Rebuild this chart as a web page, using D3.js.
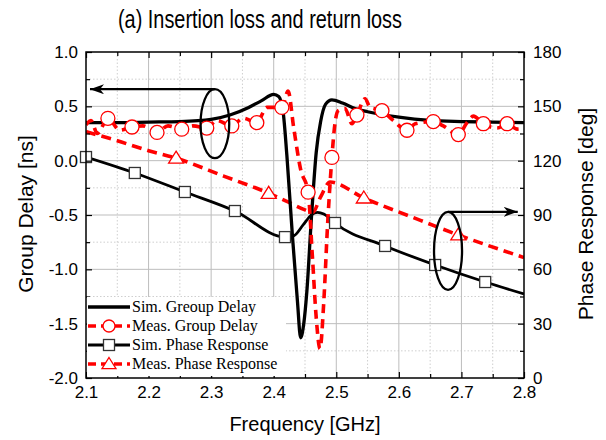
<!DOCTYPE html>
<html><head><meta charset="utf-8">
<script src="https://cdn.jsdelivr.net/npm/d3@7"></script>
<style>body{margin:0;background:#fff;} svg{display:block;}</style>
</head><body>
<svg id="chart" width="606" height="440"></svg>
<script>
// ---------- data ----------
const titleText = "(a) Insertion loss and return loss";
const xLabel = "Frequency [GHz]";
const yLeftLabel = "Group Delay [ns]";
const yRightLabel = "Phase Response [deg]";

const xTicks = [2.1, 2.2, 2.3, 2.4, 2.5, 2.6, 2.7, 2.8];
const yLeftTicks = [-2.0, -1.5, -1.0, -0.5, 0.0, 0.5, 1.0];
const yRightTicks = [0, 30, 60, 90, 120, 150, 180];

// Simulated group delay (ns)
const simGDFreq = [2.10, 2.15, 2.20, 2.25, 2.30, 2.33, 2.36, 2.38, 2.40, 2.408, 2.415, 2.421, 2.43, 2.438, 2.443, 2.448, 2.453, 2.46, 2.468, 2.475, 2.483, 2.493, 2.51, 2.53, 2.55, 2.60, 2.65, 2.70, 2.75, 2.80];
const simGD     = [0.35, 0.35, 0.355, 0.36, 0.38, 0.42, 0.49, 0.55, 0.61, 0.59, 0.45, 0.05, -0.70, -1.30, -1.63, -1.50, -1.20, -0.55, 0.08, 0.36, 0.52, 0.56, 0.53, 0.48, 0.45, 0.40, 0.37, 0.36, 0.355, 0.35];

// Measured group delay (ns)
const measGDFreq = [2.100, 2.108, 2.118, 2.135, 2.154, 2.1735, 2.191, 2.2135, 2.231, 2.253, 2.271, 2.293, 2.309, 2.333, 2.351, 2.373, 2.389, 2.413, 2.423, 2.432, 2.443, 2.455, 2.462, 2.468, 2.474, 2.480, 2.486, 2.493, 2.497, 2.503, 2.514, 2.525, 2.533, 2.546, 2.554, 2.573, 2.591, 2.613, 2.626, 2.655, 2.671, 2.695, 2.709, 2.719, 2.735, 2.757, 2.773, 2.789, 2.800];
const measGD     = [0.33, 0.37, 0.25, 0.39, 0.28, 0.31, 0.32, 0.26, 0.32, 0.29, 0.32, 0.30, 0.37, 0.32, 0.39, 0.35, 0.49, 0.49, 0.64, 0.30, -0.08, -0.29, -0.90, -1.45, -1.73, -1.30, -0.60, 0.03, 0.30, 0.46, 0.48, 0.34, 0.42, 0.57, 0.49, 0.46, 0.37, 0.28, 0.34, 0.36, 0.32, 0.24, 0.35, 0.41, 0.34, 0.30, 0.34, 0.29, 0.30];
const measGDMarkFreq = [2.135, 2.1735, 2.2135, 2.253, 2.293, 2.333, 2.373, 2.413, 2.455, 2.493, 2.533, 2.573, 2.613, 2.655, 2.695, 2.735, 2.773];
const measGDMark     = [0.39, 0.31, 0.26, 0.29, 0.30, 0.32, 0.35, 0.49, -0.29, 0.03, 0.42, 0.46, 0.28, 0.36, 0.24, 0.34, 0.34];

// Simulated phase response (deg)
const simPhFreq = [2.100, 2.178, 2.258, 2.338, 2.418, 2.432, 2.447, 2.460, 2.470, 2.480, 2.490, 2.498, 2.578, 2.658, 2.738, 2.800];
const simPh     = [122.0, 113.2, 102.7, 92.2, 77.8, 78.5, 84.5, 90.0, 91.5, 90.5, 88.0, 85.6, 72.9, 62.4, 53.0, 46.4];
const simPhMarkFreq = [2.100, 2.178, 2.258, 2.338, 2.418, 2.498, 2.578, 2.658, 2.738];
const simPhMark     = [122.0, 113.2, 102.7, 92.2, 77.8, 85.6, 72.9, 62.4, 53.0];

// Measured phase response (deg)
const measPhFreq = [2.100, 2.150, 2.200, 2.244, 2.320, 2.392, 2.420, 2.450, 2.462, 2.475, 2.490, 2.544, 2.620, 2.695, 2.800];
const measPh     = [136.0, 131.0, 125.5, 121.4, 111.5, 102.0, 97.6, 92.8, 91.3, 100.0, 108.2, 99.4, 89.0, 79.0, 66.5];
const measPhMarkFreq = [2.244, 2.392, 2.544, 2.695];
const measPhMark     = [121.4, 102.0, 99.4, 79.0];

// Annotation ellipses (centre in data units, radii in data units) and arrow ends
const ellFreq  = [2.306, 2.6786];
const ellGD    = [0.34, -0.83];
const ellRFreq = [0.0229, 0.0224];
const ellRGD   = [0.3175, 0.359];
const arrowEndFreq = [2.1064, 2.790];

const legendLabels = ["Sim. Greoup Delay", "Meas. Group Delay", "Sim. Phase Response", "Meas. Phase Response"];

// ---------- drawing ----------
const svg = d3.select("#chart");
const L = 86, R = 524, T = 52, B = 378;
const x = d3.scaleLinear().domain([2.1, 2.8]).range([L, R]);
const yL = d3.scaleLinear().domain([-2, 1]).range([B, T]);
const yR = d3.scaleLinear().domain([0, 180]).range([B, T]);
const sans = "Liberation Sans, Arial, Helvetica, sans-serif";
const serif = "Liberation Serif, Times New Roman, serif";

// grid
const g = svg.append("g");
const xMinor = d3.range(2.15, 2.8, 0.1);
const yMinor = d3.range(-1.75, 1, 0.5);
g.selectAll(".vmin").data(xMinor).join("line")
  .attr("x1", d => x(d)).attr("x2", d => x(d)).attr("y1", T).attr("y2", B)
  .attr("stroke", "#cfcfcf").attr("stroke-width", 1).attr("stroke-dasharray", "1.5,2");
g.selectAll(".hmin").data(yMinor).join("line")
  .attr("y1", d => yL(d)).attr("y2", d => yL(d)).attr("x1", L).attr("x2", R)
  .attr("stroke", "#cfcfcf").attr("stroke-width", 1).attr("stroke-dasharray", "1.5,2");
g.selectAll(".vmaj").data(xTicks.slice(1, -1)).join("line")
  .attr("x1", d => x(d)).attr("x2", d => x(d)).attr("y1", T).attr("y2", B)
  .attr("stroke", "#bdbdbd").attr("stroke-width", 1);
g.selectAll(".hmaj").data(yLeftTicks.slice(1, -1)).join("line")
  .attr("y1", d => yL(d)).attr("y2", d => yL(d)).attr("x1", L).attr("x2", R)
  .attr("stroke", "#bdbdbd").attr("stroke-width", 1);

const clip = svg.append("clipPath").attr("id", "clip").append("rect")
  .attr("x", L).attr("y", T).attr("width", R - L).attr("height", B - T);
const plot = svg.append("g").attr("clip-path", "url(#clip)");

const zip = (a, b) => a.map((v, i) => [v, b[i]]);
const lineGD = d3.line().x(d => x(d[0])).y(d => yL(d[1])).curve(d3.curveMonotoneX);
const linePh = d3.line().x(d => x(d[0])).y(d => yR(d[1])).curve(d3.curveMonotoneX);

plot.append("path").datum(zip(simPhFreq, simPh)).attr("d", linePh)
  .attr("fill", "none").attr("stroke", "#000").attr("stroke-width", 2.8);
plot.append("path").datum(zip(measPhFreq, measPh)).attr("d", linePh)
  .attr("fill", "none").attr("stroke", "#ff0000").attr("stroke-width", 3.6).attr("stroke-dasharray", "10,6");
plot.append("path").datum(zip(simGDFreq, simGD)).attr("d", lineGD)
  .attr("fill", "none").attr("stroke", "#000").attr("stroke-width", 3.3);
plot.append("path").datum(zip(measGDFreq, measGD)).attr("d", lineGD)
  .attr("fill", "none").attr("stroke", "#ff0000").attr("stroke-width", 3.6).attr("stroke-dasharray", "9,6");

// markers
const circ = (sel, cx, cy, r = 7) => sel.append("circle").attr("cx", cx).attr("cy", cy).attr("r", r)
  .attr("fill", "#fff").attr("stroke", "#ff0000").attr("stroke-width", 1.3);
const sq = (sel, cx, cy, r = 5.5) => sel.append("rect").attr("x", cx - r).attr("y", cy - r).attr("width", 2 * r).attr("height", 2 * r)
  .attr("fill", "#fff").attr("stroke", "#333").attr("stroke-width", 1.3);
const tri = (sel, cx, cy, r = 7.5) => sel.append("path")
  .attr("d", `M${cx},${cy - r * 0.93}L${cx + r},${cy + r * 0.67}L${cx - r},${cy + r * 0.67}Z`)
  .attr("fill", "#fff").attr("stroke", "#ff0000").attr("stroke-width", 1.3);

const mk = svg.append("g");
simPhMarkFreq.forEach((f, i) => sq(mk, x(f), yR(simPhMark[i])));
measPhMarkFreq.forEach((f, i) => tri(mk, x(f), yR(measPhMark[i])));
measGDMarkFreq.forEach((f, i) => circ(mk, x(f), yL(measGDMark[i])));

// annotations
const defs = svg.append("defs");
defs.append("marker").attr("id", "ah").attr("viewBox", "0 0 14 10").attr("refX", 14).attr("refY", 5)
  .attr("markerWidth", 14).attr("markerHeight", 10).attr("markerUnits", "userSpaceOnUse").attr("orient", "auto")
  .append("path").attr("d", "M0,0L14,5L0,10L4,5Z").attr("fill", "#000");
const an = svg.append("g");
ellFreq.forEach((f, i) => {
  const cx = x(f), cy = yL(ellGD[i]);
  const rx = x(f + ellRFreq[i]) - cx, ry = cy - yL(ellGD[i] + ellRGD[i]);
  an.append("ellipse").attr("cx", cx).attr("cy", cy).attr("rx", rx).attr("ry", ry)
    .attr("fill", "none").attr("stroke", "#000").attr("stroke-width", 2.3);
  an.append("line").attr("x1", cx).attr("y1", cy - ry).attr("x2", x(arrowEndFreq[i])).attr("y2", cy - ry)
    .attr("stroke", "#000").attr("stroke-width", 2.3).attr("marker-end", "url(#ah)");
});

// frame
svg.append("rect").attr("x", L).attr("y", T).attr("width", R - L).attr("height", B - T)
  .attr("fill", "none").attr("stroke", "#000").attr("stroke-width", 1.5);

// axes
const fmt = d => d.toFixed(1);
function styleAxis(sel, size) {
  sel.select(".domain").remove();
  sel.selectAll(".tick line").attr("stroke", "#000").attr("stroke-width", 1.2);
  sel.selectAll(".tick text").attr("font-family", sans).attr("font-size", size).attr("fill", "#000");
}
const minorX = d3.range(2.15, 2.8, 0.1);
const minorY = d3.range(-1.75, 1, 0.5);
const minorR = d3.range(15, 180, 30);

svg.append("g").attr("transform", `translate(0,${B})`)
  .call(d3.axisBottom(x).tickValues(xTicks).tickFormat(fmt).tickSizeInner(-6).tickSizeOuter(0).tickPadding(8))
  .call(s => styleAxis(s, 17));
svg.append("g").attr("transform", `translate(0,${B})`)
  .call(d3.axisBottom(x).tickValues(minorX).tickFormat("").tickSizeInner(-4).tickSizeOuter(0))
  .call(s => styleAxis(s, 17));
svg.append("g").attr("transform", `translate(0,${T})`)
  .call(d3.axisTop(x).tickValues(xTicks).tickFormat("").tickSizeInner(-6).tickSizeOuter(0))
  .call(s => styleAxis(s, 17));
svg.append("g").attr("transform", `translate(0,${T})`)
  .call(d3.axisTop(x).tickValues(minorX).tickFormat("").tickSizeInner(-4).tickSizeOuter(0))
  .call(s => styleAxis(s, 17));
svg.append("g").attr("transform", `translate(${L},0)`)
  .call(d3.axisLeft(yL).tickValues(yLeftTicks).tickFormat(fmt).tickSizeInner(-6).tickSizeOuter(0).tickPadding(8))
  .call(s => styleAxis(s, 17));
svg.append("g").attr("transform", `translate(${L},0)`)
  .call(d3.axisLeft(yL).tickValues(minorY).tickFormat("").tickSizeInner(-4).tickSizeOuter(0))
  .call(s => styleAxis(s, 17));
svg.append("g").attr("transform", `translate(${R},0)`)
  .call(d3.axisRight(yR).tickValues(yRightTicks).tickFormat(d3.format("d")).tickSizeInner(-6).tickSizeOuter(0).tickPadding(9))
  .call(s => styleAxis(s, 17));
svg.append("g").attr("transform", `translate(${R},0)`)
  .call(d3.axisRight(yR).tickValues(minorR).tickFormat("").tickSizeInner(-4).tickSizeOuter(0))
  .call(s => styleAxis(s, 17));

// titles
svg.append("text").attr("x", 260).attr("y", 28).attr("text-anchor", "middle")
  .attr("font-family", "Liberation Sans Narrow, " + sans).attr("font-size", 26)
  .attr("textLength", 284).attr("lengthAdjust", "spacingAndGlyphs").text(titleText);
svg.append("text").attr("x", (L + R) / 2).attr("y", 431).attr("text-anchor", "middle")
  .attr("font-family", sans).attr("font-size", 20).text(xLabel);
svg.append("text").attr("transform", "translate(33,214) rotate(-90)").attr("text-anchor", "middle")
  .attr("font-family", sans).attr("font-size", 21).text(yLeftLabel);
svg.append("text").attr("transform", "translate(593,214) rotate(-90)").attr("text-anchor", "middle")
  .attr("font-family", sans).attr("font-size", 21).text(yRightLabel);

// legend
const lg = svg.append("g");
lg.append("rect").attr("x", 87).attr("y", 297).attr("width", 199).attr("height", 79).attr("fill", "#fff");
const rowY = [307, 326, 345, 364];
const styles = [
  {c: "#000", w: 3.3, dash: null, m: null, r: 0},
  {c: "#ff0000", w: 3.6, dash: "8,5", m: circ, r: 6},
  {c: "#000", w: 2.8, dash: null, m: sq, r: 5.5},
  {c: "#ff0000", w: 3.6, dash: "8,5", m: tri, r: 7}
];
legendLabels.forEach((t, i) => {
  const s = styles[i], yy = rowY[i];
  lg.append("line").attr("x1", 88).attr("x2", 130).attr("y1", yy).attr("y2", yy)
    .attr("stroke", s.c).attr("stroke-width", s.w).attr("stroke-dasharray", s.dash);
  if (s.m) s.m(lg, 109, yy, s.r);
  lg.append("text").attr("x", 132).attr("y", yy + 5).attr("font-family", serif).attr("font-size", 16).text(t);
});
</script>
</body></html>
